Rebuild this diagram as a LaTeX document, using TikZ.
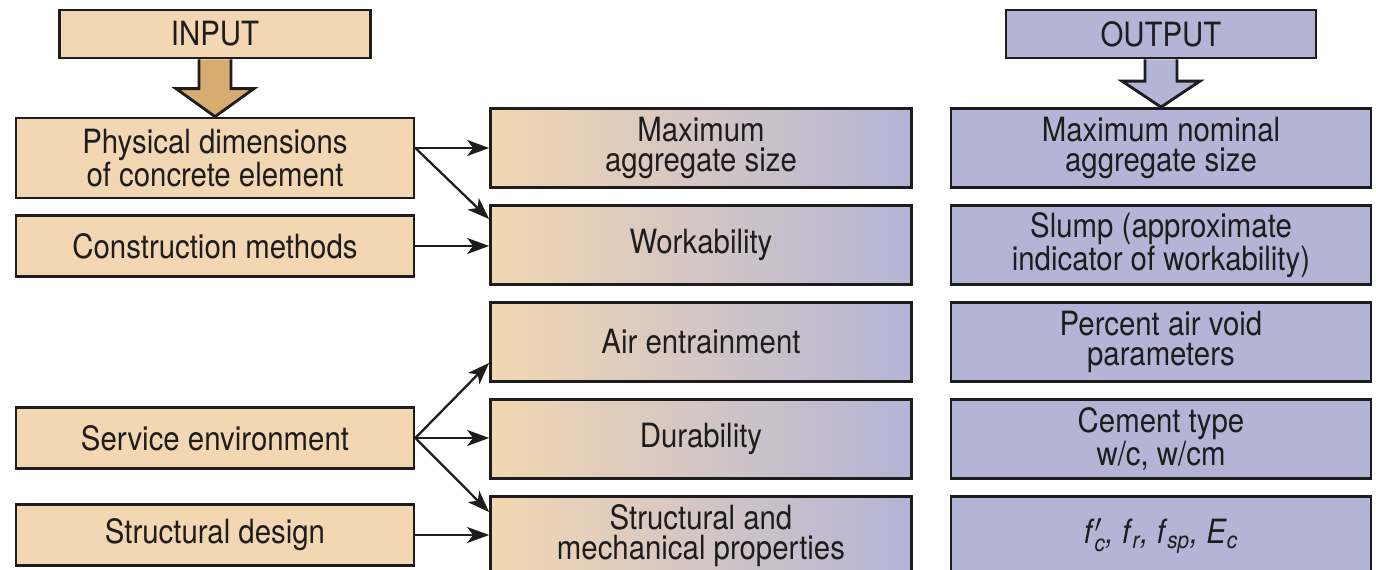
\documentclass[tikz,border=0pt]{standalone}
\usepackage{fontspec}
\usepackage{amsmath}
\setmainfont{TeX Gyre Heros}[FakeStretch=0.88]
\usetikzlibrary{arrows.meta}
\definecolor{intan}{RGB}{242,215,178}
\definecolor{inarrow}{RGB}{214,172,112}
\definecolor{outlav}{RGB}{180,180,214}
\definecolor{ink}{RGB}{30,28,28}

\tikzset{
  box/.style={draw=ink, line width=1.6pt, text=ink, align=center, inner sep=0pt,
    font=\fontsize{19}{17.2}\selectfont},
  inbox/.style={box, fill=intan, minimum width=7.96cm},
  midbox/.style={box, left color=intan, right color=outlav, minimum width=8.42cm, minimum height=1.58cm},
  outbox/.style={box, fill=outlav, minimum width=8.4cm, minimum height=1.58cm},
  link/.style={draw=ink, line width=1.3pt, -{Stealth[length=0.44cm,width=0.32cm,inset=0.12cm]}},
  blockarrow/.style={draw=ink, line width=1.6pt, line join=miter},
}

\begin{document}
\begin{tikzpicture}[x=0.02cm, y=-0.02cm]
\clip (0,0) rectangle (1376,570);
\fill[white] (0,0) rectangle (1376,570);
% input side
\node[inbox, minimum width=6.22cm, minimum height=0.96cm] (inp) at (215,34) {INPUT};
\node[inbox, minimum height=1.6cm] (phys) at (215,158) {Physical dimensions\\of concrete element};
\node[inbox, minimum height=1.22cm] (constr) at (215,246) {Construction methods};
\node[inbox, minimum height=1.22cm] (serv) at (215,438) {Service environment};
\node[inbox, minimum height=1.22cm] (sdes) at (215,535) {Structural design};
% properties
\node[midbox] (maxagg) at (701,148) {Maximum\\aggregate size};
\node[midbox] (work) at (701,245) {Workability};
\node[midbox] (air) at (701,342) {Air entrainment};
\node[midbox] (dura) at (701,439) {Durability};
\node[midbox] (smech) at (701,536) {Structural and\\mechanical properties};
% output side
\node[outbox, minimum width=6.2cm, minimum height=0.96cm] (outp) at (1161,34) {OUTPUT};
\node[outbox] (maxnom) at (1161,148) {Maximum nominal\\aggregate size};
\node[outbox] (slump) at (1161,245) {Slump (approximate\\indicator of workability)};
\node[outbox] (voids) at (1161,342) {Percent air void\\parameters};
\node[outbox] (cement) at (1161,439) {Cement type\\w/c, w/cm};
\node[outbox] (props) at (1161,536) {\textit{f}$'_{\textit{c}}$\textit{,} \textit{f}$_{\textit{r}}$\textit{,} \textit{f}$_{\textit{sp}}$\textit{,} \textit{E}$_{\textit{c}}$};

% big arrows
\draw[blockarrow, fill=inarrow] ([xshift=-0.32cm]inp.south) -- ([xshift=-0.32cm,yshift=0.56cm]phys.north)
  -- ([xshift=-0.78cm,yshift=0.56cm]phys.north) -- (phys.north) -- ([xshift=0.78cm,yshift=0.56cm]phys.north)
  -- ([xshift=0.32cm,yshift=0.56cm]phys.north) -- ([xshift=0.32cm]inp.south);
\draw[blockarrow, fill=outlav] ([xshift=-0.32cm]outp.south) -- ([xshift=-0.32cm,yshift=0.52cm]maxnom.north)
  -- ([xshift=-0.78cm,yshift=0.52cm]maxnom.north) -- (maxnom.north) -- ([xshift=0.78cm,yshift=0.52cm]maxnom.north)
  -- ([xshift=0.32cm,yshift=0.52cm]maxnom.north) -- ([xshift=0.32cm]outp.south);

% links
\coordinate (physout) at (phys.east |- maxagg.west);
\draw[link] (physout) -- (maxagg.west);
\draw[link] (physout) -- ([yshift=-0.3cm]work.north west);
\draw[link] (constr.east) -- (constr.east -| work.west);
\draw[link] (serv.east) -- ([yshift=0.4cm]air.south west);
\draw[link] (serv.east) -- (serv.east -| dura.west);
\draw[link] (serv.east) -- ([yshift=-0.34cm]smech.north west);
\draw[link] (sdes.east) -- (sdes.east -| smech.west);
\end{tikzpicture}
\end{document}
